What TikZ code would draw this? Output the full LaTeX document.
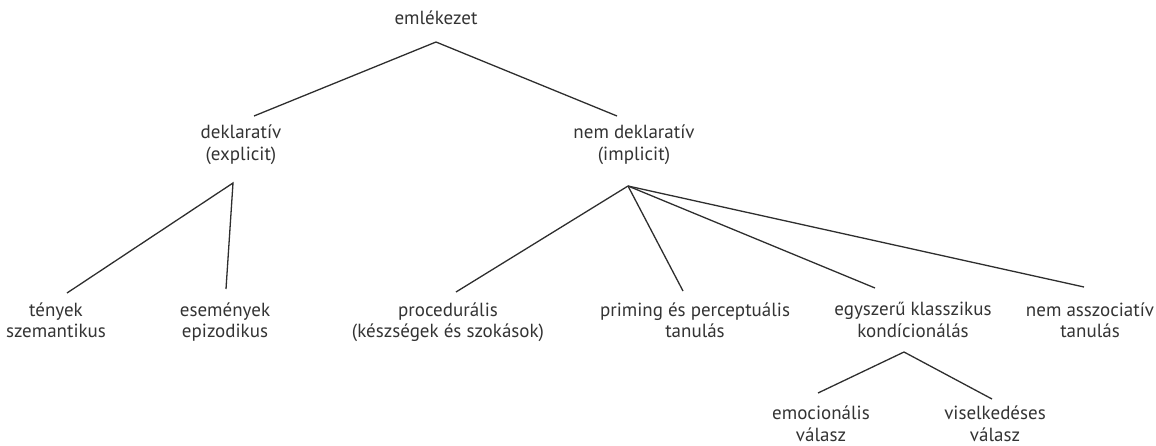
\documentclass[tikz,border=0pt]{standalone}
\usepackage{fontspec}
\setmainfont{PT Sans}
\begin{document}
\begin{tikzpicture}[x=1pt,y=-1pt,
  term/.style={align=center,inner sep=0pt,text=black!80,
    font=\fontsize{19}{21.5}\selectfont,
    execute at begin node=\strut,execute at end node=\strut},
  branch/.style={draw=black!82,line width=1.3pt}]
\useasboundingbox (0,0) rectangle (1156,445);

% terms of the tree
\node[term] (mem)  at (436,20.4)  {emlékezet};
\node[term] (decl) at (241,146.1) {deklaratív\\(explicit)};
\node[term] (ndec) at (634,146.1) {nem deklaratív\\(implicit)};
\node[term] (fact) at (56,323.2)  {tények\\szemantikus};
\node[term] (evnt) at (225,323.2) {események\\epizodikus};
\node[term] (proc) at (448,323.2) {procedurális\\(készségek és szokások)};
\node[term] (prim) at (695,323.2) {priming és perceptuális\\tanulás};
\node[term] (cond) at (913,323.2) {egyszerű klasszikus\\kondícionálás};
\node[term] (nass) at (1090,323.2){nem asszociatív\\tanulás};
\node[term] (emot) at (821,427)   {emocionális\\válasz};
\node[term] (behv) at (995,427)   {viselkedéses\\válasz};

% branch points and line ends
\coordinate (mem-b)  at (436,42);
\coordinate (decl-t) at (254,116);
\coordinate (ndec-t) at (617,116);
\coordinate (decl-b) at (233,183);
\coordinate (fact-t) at (67,293);
\coordinate (evnt-t) at (226,289);
\coordinate (ndec-b) at (628,186);
\coordinate (proc-t) at (456,292);
\coordinate (prim-t) at (683,291);
\coordinate (cond-t) at (875,288);
\coordinate (nass-t) at (1084,287);
\coordinate (cond-b) at (904,352);
\coordinate (emot-t) at (818,393);
\coordinate (behv-t) at (992,399);

\draw[branch] (decl-t) -- (mem-b) -- (ndec-t);
\draw[branch] (fact-t) -- (decl-b) -- (evnt-t);
\draw[branch] (ndec-b) -- (proc-t);
\draw[branch] (ndec-b) -- (prim-t);
\draw[branch] (ndec-b) -- (cond-t);
\draw[branch] (ndec-b) -- (nass-t);
\draw[branch] (emot-t) -- (cond-b) -- (behv-t);
\end{tikzpicture}
\end{document}
